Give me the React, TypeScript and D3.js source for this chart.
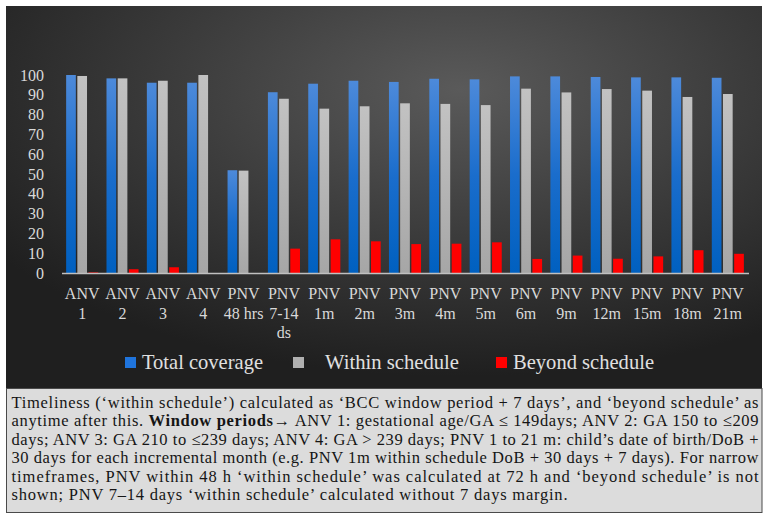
import React, { useEffect } from "react";
import * as d3 from "d3";

// values
const categories = [
  ["ANV", "1"], ["ANV", "2"], ["ANV", "3"], ["ANV", "4"],
  ["PNV", "48 hrs"], ["PNV", "7-14", "ds"], ["PNV", "1m"], ["PNV", "2m"],
  ["PNV", "3m"], ["PNV", "4m"], ["PNV", "5m"], ["PNV", "6m"],
  ["PNV", "9m"], ["PNV", "12m"], ["PNV", "15m"], ["PNV", "18m"], ["PNV", "21m"],
];
const totalCoverage = [100, 98.3, 96.1, 96.1, 51.9, 91.3, 95.6, 97.1, 96.5, 98.1, 97.8, 99.3, 99.3, 99.0, 98.8, 98.8, 98.6];
const withinSchedule = [99.5, 98.3, 97.1, 100, 51.7, 88.0, 83.0, 84.2, 85.7, 85.4, 84.8, 93.1, 91.2, 92.9, 92.1, 88.9, 90.4];
const beyondSchedule = [0.3, 1.9, 2.9, 0, 0, 12.3, 17.0, 16.0, 14.6, 14.8, 15.5, 7.1, 8.8, 7.2, 8.4, 11.5, 9.7];
const seriesNames = ["Total coverage", "Within schedule", "Beyond schedule"];
const yTicks = [0, 10, 20, 30, 40, 50, 60, 70, 80, 90, 100];

const noteLines: { t: string; b?: boolean }[][] = [
  [{ t: "Timeliness (‘within schedule’) calculated as ‘BCC window period + 7 days’, and ‘beyond schedule’ as" }],
  [{ t: "anytime after this. " }, { t: "Window periods", b: true }, { t: "→ ANV 1: gestational age/GA ≤ 149days; ANV 2: GA 150 to ≤209" }],
  [{ t: "days; ANV 3: GA 210 to ≤239 days; ANV 4: GA > 239 days; PNV 1 to 21 m: child’s date of birth/DoB +" }],
  [{ t: "30 days for each incremental month (e.g. PNV 1m within schedule DoB + 30 days + 7 days). For narrow" }],
  [{ t: "timeframes, PNV within 48 h ‘within schedule’ was calculated at 72 h and ‘beyond schedule’ is not" }],
  [{ t: "shown; PNV 7–14 days ‘within schedule’ calculated without 7 days margin." }],
];

const W = 767;
const H = 529;
const font = "'Liberation Serif', 'Times New Roman', serif";

export default function App() {
  useEffect(() => {
    document.body.style.margin = "0";
  }, []);

  const x = d3
    .scaleBand<number>()
    .domain(categories.map((_, i) => i))
    .range([62, 748]);
  const sub = d3
    .scaleBand<number>()
    .domain([0, 1, 2])
    .range([0, x.step()])
    .paddingInner(0.134)
    .paddingOuter(0.37);
  const y = d3.scaleLinear().domain([0, 100]).range([273, 75]);

  const series = [totalCoverage, withinSchedule, beyondSchedule];
  const fills = ["url(#blueGrad)", "url(#grayGrad)", "#ff0000"];
  const legendSwatch = ["#1f74dc", "#b0b0b0", "#ff0000"];
  const legendX = [125, 293, 496];
  const legendW = [121, 134, 141];

  return (
    <svg width={W} height={H} style={{ display: "block", background: "#fff" }}>
      <defs>
        <radialGradient id="bgGrad" cx="0.6" cy="0.22" r="0.75">
          <stop offset="0" stopColor="#5a5a5a" />
          <stop offset="0.5" stopColor="#3c3c3c" />
          <stop offset="1" stopColor="#1f1f1f" />
        </radialGradient>
        <linearGradient id="blueGrad" x1="0" y1="0" x2="0" y2="1">
          <stop offset="0" stopColor="#4d8ada" />
          <stop offset="0.5" stopColor="#1a6dcc" />
          <stop offset="1" stopColor="#0060c0" />
        </linearGradient>
        <linearGradient id="grayGrad" x1="0" y1="0" x2="0" y2="1">
          <stop offset="0" stopColor="#c2c2c2" />
          <stop offset="1" stopColor="#a6a6a6" />
        </linearGradient>
      </defs>

      <rect x={6} y={6} width={756} height={382} fill="url(#bgGrad)" />

      {yTicks.map((t) => (
        <text
          key={t}
          x={44}
          y={y(t)}
          dy="0.35em"
          textAnchor="end"
          fontFamily={font}
          fontSize={16}
          fill="#d9d9d9"
        >
          {t}
        </text>
      ))}

      {categories.map((_, i) =>
        series.map((vals, s) =>
          vals[i] > 0 ? (
            <rect
              key={`${i}-${s}`}
              x={(x(i) as number) + (sub(s) as number)}
              y={y(vals[i])}
              width={sub.bandwidth()}
              height={y(0) - y(vals[i])}
              fill={fills[s]}
            />
          ) : null
        )
      )}

      <line x1={62} x2={749} y1={y(0) + 0.5} y2={y(0) + 0.5} stroke="#c0c0c0" strokeWidth={1.5} />

      {categories.map((lines, i) => (
        <text
          key={i}
          textAnchor="middle"
          fontFamily={font}
          fontSize={16}
          fill="#d9d9d9"
        >
          {lines.map((l, k) => (
            <tspan key={k} x={(x(i) as number) + x.bandwidth() / 2} y={299 + k * 19.5}>
              {l}
            </tspan>
          ))}
        </text>
      ))}

      {seriesNames.map((name, s) => (
        <g key={name}>
          <rect x={legendX[s]} y={357} width={11} height={11} fill={legendSwatch[s]} />
          <text
            x={legendX[s] + (s === 1 ? 32 : 17)}
            y={369}
            fontFamily={font}
            fontSize={21}
            fill="#e0e0e0"
            textLength={legendW[s]}
            lengthAdjust="spacingAndGlyphs"
          >
            {name}
          </text>
        </g>
      ))}

      <rect x={6.5} y={388.5} width={755.5} height={124} fill="#dcdcdc" stroke="#4a4a4a" strokeWidth={1} />
      {noteLines.map((segs, i) => (
        <text
          key={i}
          x={11.5}
          y={407.5 + i * 18.5}
          fontFamily={font}
          fontSize={16.5}
          fill="#151515"
          textLength={i < noteLines.length - 1 ? 747 : 556}
          lengthAdjust="spacing"
        >
          {segs.map((sg, k) => (
            <tspan key={k} fontWeight={sg.b ? "bold" : "normal"}>
              {sg.t}
            </tspan>
          ))}
        </text>
      ))}
    </svg>
  );
}
